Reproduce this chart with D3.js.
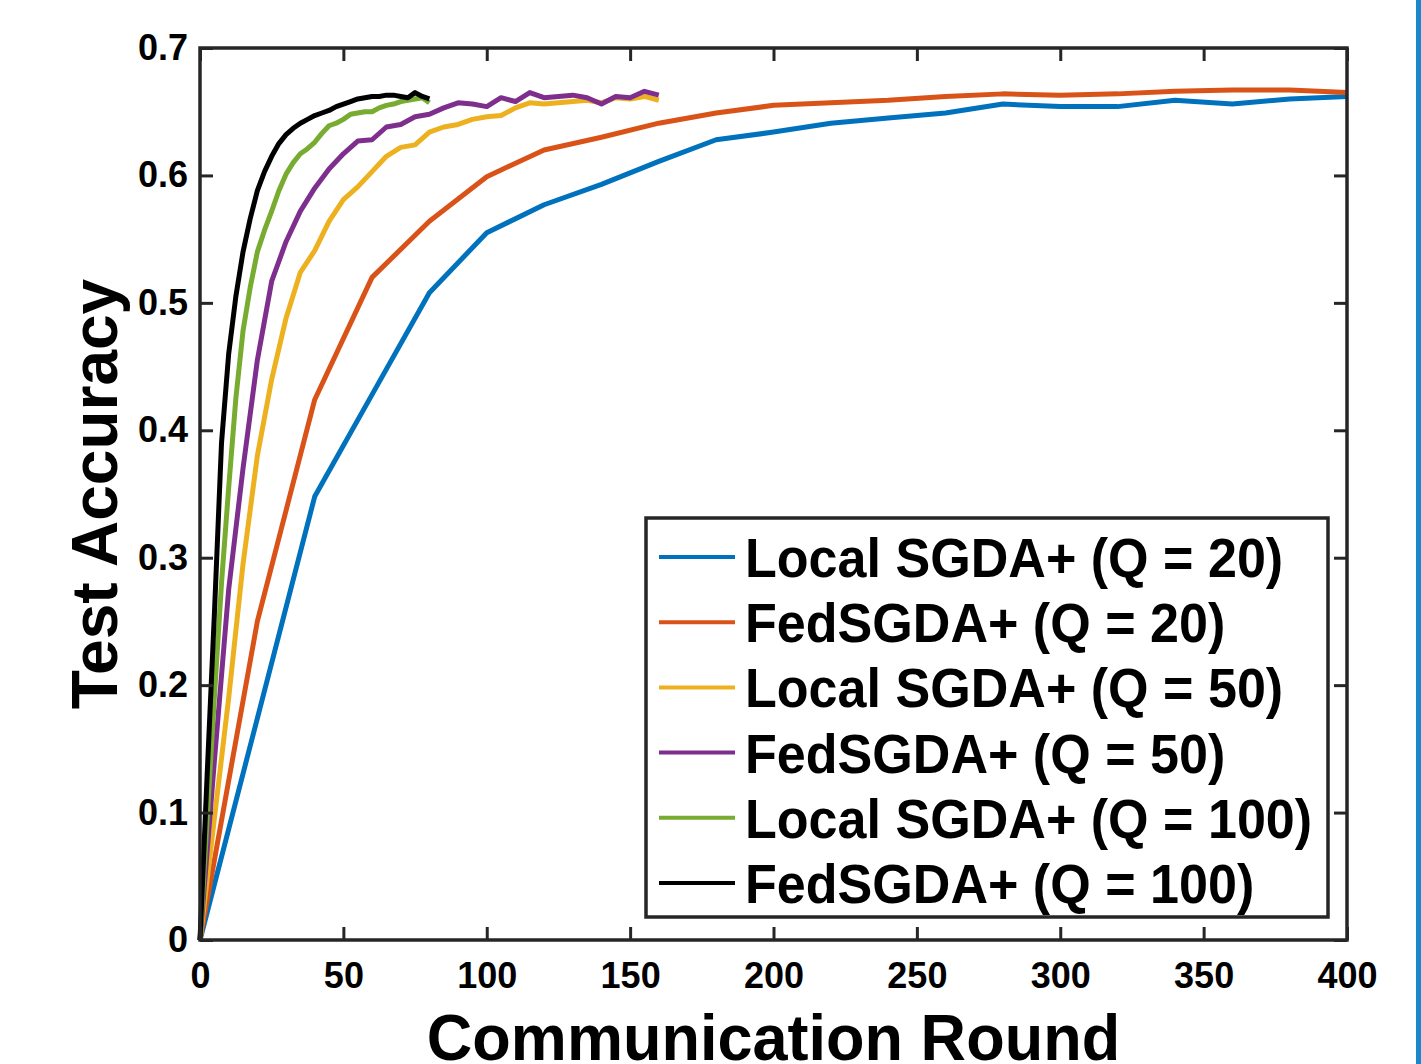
<!DOCTYPE html>
<html>
<head>
<meta charset="utf-8">
<script src="https://cdn.jsdelivr.net/npm/d3@7"></script>
<style>
  html, body { margin: 0; padding: 0; background: #fff; }
  svg { display: block; }
  text { font-family: "Liberation Sans", Arial, Helvetica, sans-serif; font-weight: bold; fill: #000; }
</style>
</head>
<body>
<svg id="chart" width="1421" height="1064"></svg>
<script>
// rounds at which each run was evaluated
const roundsQ20 = [0, 20, 40, 60, 80, 100, 120, 140, 160, 180, 200, 220, 240, 260, 280, 300, 320, 340, 360, 380, 400];
const roundsQ50 = [0, 5, 10, 15, 20, 25, 30, 35, 40, 45, 50, 55, 60, 65, 70, 75, 80, 85, 90, 95, 100,
  105, 110, 115, 120, 125, 130, 135, 140, 145, 150, 155, 160];
const roundsQ100 = [0, 2.5, 5, 7.5, 10, 12.5, 15, 17.5, 20, 22.5, 25, 27.5, 30, 32.5, 35, 37.5, 40,
  42.5, 45, 47.5, 50, 52.5, 55, 57.5, 60, 62.5, 65, 67.5, 70, 72.5, 75, 77.5, 80];

// test accuracy
const localQ20 = [0, 0.174, 0.348, 0.428, 0.508, 0.555, 0.577, 0.593, 0.611, 0.628, 0.634, 0.641,
  0.645, 0.649, 0.656, 0.654, 0.654, 0.659, 0.656, 0.660, 0.662];
const fedQ20 = [0, 0.25, 0.424, 0.520, 0.564, 0.599, 0.620, 0.630, 0.641, 0.649, 0.655, 0.657,
  0.659, 0.662, 0.664, 0.663, 0.664, 0.666, 0.667, 0.667, 0.665];
const localQ50 = [0, 0.095, 0.19, 0.295, 0.38, 0.44, 0.488, 0.524, 0.541, 0.564, 0.581, 0.591, 0.603,
  0.615, 0.622, 0.624, 0.634, 0.638, 0.640, 0.644, 0.646, 0.647, 0.653, 0.657, 0.656, 0.657, 0.658,
  0.659, 0.657, 0.661, 0.660, 0.662, 0.659];
const fedQ50 = [0, 0.14, 0.275, 0.37, 0.455, 0.517, 0.548, 0.572, 0.590, 0.605, 0.617, 0.627, 0.628,
  0.638, 0.640, 0.646, 0.648, 0.653, 0.657, 0.656, 0.654, 0.661, 0.658, 0.665, 0.661, 0.662, 0.663,
  0.661, 0.656, 0.662, 0.661, 0.666, 0.663];
const localQ100 = [0, 0.095, 0.19, 0.28, 0.355, 0.425, 0.478, 0.512, 0.540, 0.557, 0.572, 0.588, 0.601,
  0.610, 0.617, 0.621, 0.626, 0.633, 0.639, 0.641, 0.644, 0.648, 0.649, 0.650, 0.650, 0.653, 0.655,
  0.656, 0.658, 0.659, 0.660, 0.661, 0.657];
const fedQ100 = [0, 0.13, 0.255, 0.39, 0.46, 0.505, 0.54, 0.566, 0.588, 0.603, 0.615, 0.625, 0.632,
  0.637, 0.641, 0.644, 0.647, 0.649, 0.651, 0.654, 0.656, 0.658, 0.660, 0.661, 0.662, 0.662, 0.663,
  0.663, 0.662, 0.661, 0.665, 0.662, 0.660];

const seriesNames = ['Local SGDA+ (Q = 20)', 'FedSGDA+ (Q = 20)', 'Local SGDA+ (Q = 50)',
  'FedSGDA+ (Q = 50)', 'Local SGDA+ (Q = 100)', 'FedSGDA+ (Q = 100)'];
const seriesColors = ['#0072BD', '#D95319', '#EDB120', '#7E2F8E', '#77AC30', '#000000'];

const xTicks = [0, 50, 100, 150, 200, 250, 300, 350, 400];
const yTicks = [0, 0.1, 0.2, 0.3, 0.4, 0.5, 0.6, 0.7];

const series = [
  { name: seriesNames[0], x: roundsQ20, y: localQ20 },
  { name: seriesNames[1], x: roundsQ20, y: fedQ20 },
  { name: seriesNames[2], x: roundsQ50, y: localQ50 },
  { name: seriesNames[3], x: roundsQ50, y: fedQ50 },
  { name: seriesNames[4], x: roundsQ100, y: localQ100 },
  { name: seriesNames[5], x: roundsQ100, y: fedQ100 },
];

const plotLeft = 200, plotRight = 1347, plotTop = 48, plotBottom = 940;
const axisColor = '#262626';
const tickLen = 13;

const svg = d3.select('#chart');

const x = d3.scaleLinear().domain([0, 400]).range([plotLeft, plotRight]);
const y = d3.scaleLinear().domain([0, 0.7]).range([plotBottom, plotTop]);

// blue strip on the right edge of the screenshot
svg.append('rect')
  .attr('x', 1416).attr('y', 0)
  .attr('width', 5).attr('height', 1064)
  .attr('fill', '#1a86cc');

const plot = svg.append('g');

const line = d3.line()
  .x((d) => x(d[0]))
  .y((d) => y(d[1]));

plot.selectAll('path.series')
  .data(series)
  .enter()
  .append('path')
  .attr('class', 'series')
  .attr('d', (s) => line(s.x.map((v, i) => [v, s.y[i]])))
  .attr('fill', 'none')
  .attr('stroke', (d, i) => seriesColors[i])
  .attr('stroke-width', 5)
  .attr('stroke-linejoin', 'round');

// axes: MATLAB style box with inward ticks on all four sides
const bottomAxis = d3.axisBottom(x).tickValues(xTicks).tickSize(-tickLen).tickPadding(22)
  .tickFormat(d3.format('d'));
const topAxis = d3.axisTop(x).tickValues(xTicks).tickSize(-tickLen).tickFormat('');
const leftAxis = d3.axisLeft(y).tickValues(yTicks).tickSize(-tickLen).tickPadding(12)
  .tickFormat((d) => d === 0 ? '0' : d3.format('.1f')(d));
const rightAxis = d3.axisRight(y).tickValues(yTicks).tickSize(-tickLen).tickFormat('');

const styleAxis = (g) => {
  g.select('.domain').remove();
  g.selectAll('.tick line').attr('stroke', axisColor).attr('stroke-width', 3);
  g.selectAll('.tick text')
    .attr('fill', axisColor)
    .style('font-size', '36px')
    .style('font-weight', 'bold')
    .style('font-family', '"Liberation Sans", Arial, sans-serif');
};

svg.append('g').attr('transform', `translate(0, ${plotBottom})`).call(bottomAxis).call(styleAxis);
svg.append('g').attr('transform', `translate(0, ${plotTop})`).call(topAxis).call(styleAxis);
svg.append('g').attr('transform', `translate(${plotLeft}, 0)`).call(leftAxis).call(styleAxis);
svg.append('g').attr('transform', `translate(${plotRight}, 0)`).call(rightAxis).call(styleAxis);

svg.append('rect')
  .attr('x', plotLeft).attr('y', plotTop)
  .attr('width', plotRight - plotLeft).attr('height', plotBottom - plotTop)
  .attr('fill', 'none')
  .attr('stroke', axisColor)
  .attr('stroke-width', 3.5);

// axis titles (the reference crops the bottom of the x title slightly)
svg.append('text')
  .text('Communication Round')
  .attr('transform', `translate(${(plotLeft + plotRight) / 2}, 1060) scale(0.97, 1)`)
  .attr('text-anchor', 'middle')
  .style('font-size', '65px')
  .attr('fill', axisColor);

svg.append('text')
  .text('Test Accuracy')
  .attr('transform', `translate(117, ${(plotTop + plotBottom) / 2}) rotate(-90)`)
  .attr('text-anchor', 'middle')
  .style('font-size', '64px')
  .attr('fill', axisColor);

// legend
const legend = svg.append('g');
legend.append('rect')
  .attr('x', 646).attr('y', 518)
  .attr('width', 682).attr('height', 399)
  .attr('fill', '#fff')
  .attr('stroke', axisColor)
  .attr('stroke-width', 3.5);

const rowY = (i) => 557 + i * 65.2;

legend.selectAll('line')
  .data(series)
  .enter()
  .append('line')
  .attr('x1', 659).attr('x2', 735)
  .attr('y1', (d, i) => rowY(i)).attr('y2', (d, i) => rowY(i))
  .attr('stroke', (d, i) => seriesColors[i])
  .attr('stroke-width', 4);

legend.selectAll('text')
  .data(series)
  .enter()
  .append('text')
  .text((d) => d.name)
  .attr('transform', (d, i) => `translate(745, ${rowY(i) + 20}) scale(0.93, 1)`)
  .style('font-size', '56px');
</script>
</body>
</html>
